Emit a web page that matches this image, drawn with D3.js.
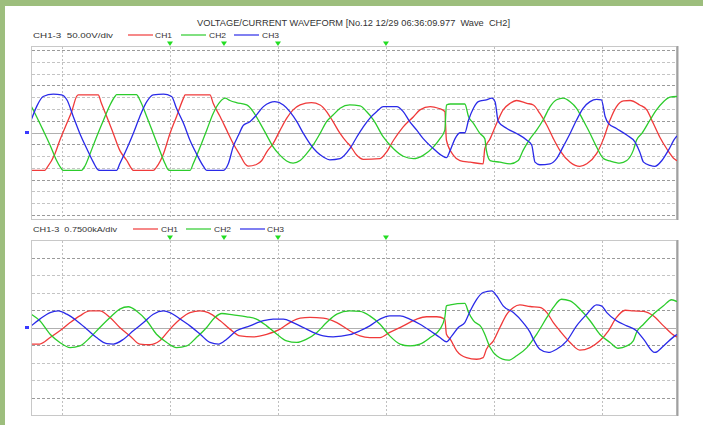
<!DOCTYPE html>
<html>
<head>
<meta charset="utf-8">
<script src="https://cdn.jsdelivr.net/npm/d3@7"></script>
<style>
body { margin: 0; background: #fff; }
svg text { font-family: "Liberation Sans", Arial, sans-serif; fill: #333; white-space: pre; }
</style>
</head>
<body>
<svg id="chart"></svg>
<script>
const width = 703;
const height = 425;

const title = "VOLTAGE/CURRENT WAVEFORM [No.12 12/29 06:36:09.977  Wave  CH2]";
const channels = ["CH1", "CH2", "CH3"];
const colors = ["#f03a3a", "#2ccc2c", "#2a2ae8"];
const gridTimes = [0, 20, 40, 60, 80, 100];   // ms, one division = 20 ms
const markerTimes = [20, 30, 40, 60];

// voltage waveforms [ms, V]
const voltCH1 = [[-5.7,-161],[-3.2,-161],[-2.8,-150],[-1.3,-90],[-0.4,-33],[0.9,39],[1.8,89],[2.7,153],[3.0,160],[6.7,160],[7.3,124],[8.3,67],[9.5,-4],[10.7,-76],[12.0,-119],[12.9,-154],[13.2,-161],[16.9,-161],[17.5,-147],[18.8,-90],[20.0,-4],[21.2,67],[22.5,146],[22.8,160],[27.4,160],[28.0,124],[29.3,67],[30.5,10],[31.7,-47],[33.0,-97],[33.9,-133],[34.5,-143],[36.0,-136],[37.0,-119],[37.9,-83],[39.1,-47],[40.4,10],[41.6,60],[42.8,96],[44.1,117],[46.2,127],[47.8,117],[49.0,89],[50.2,46],[51.5,-4],[52.7,-40],[53.3,-54],[54.6,-97],[55.8,-114],[58.9,-111],[60.1,-83],[61.4,-33],[63.2,24],[65.1,67],[66.3,96],[68.2,110],[69.7,103],[70.9,89],[71.2,-33],[72.5,-97],[73.7,-119],[75.6,-126],[78.0,-133],[78.3,-69],[79.3,-26],[80.5,39],[81.7,96],[83.0,124],[84.2,136],[86.1,124],[87.3,117],[88.5,81],[89.8,31],[91.0,-26],[92.2,-76],[94.1,-126],[95.9,-144],[97.2,-133],[99.0,-90],[100.3,-26],[101.5,53],[102.7,110],[104.0,134],[105.2,136],[107.0,117],[108.3,96],[109.5,39],[110.7,-19],[112.0,-69],[113.5,-114],[113.9,-120]];
const voltCH2 = [[-5.7,112],[-4.7,67],[-3.5,10],[-2.2,-54],[-1.0,-119],[-0.1,-154],[0.2,-161],[3.6,-161],[4.3,-140],[5.2,-90],[6.4,-19],[7.7,53],[8.9,117],[9.8,153],[10.1,161],[13.8,161],[14.4,139],[15.7,67],[16.9,-4],[18.1,-76],[19.1,-133],[19.7,-159],[20.0,-161],[23.7,-161],[24.3,-133],[25.6,-61],[26.8,10],[28.0,81],[29.3,131],[30.2,146],[31.1,136],[32.3,127],[34.2,117],[35.4,89],[36.7,39],[37.9,-11],[39.1,-61],[40.4,-97],[41.6,-121],[42.8,-130],[44.1,-119],[45.3,-90],[46.5,-54],[47.8,-4],[49.0,46],[50.2,74],[51.5,103],[53.3,117],[55.2,113],[56.4,89],[57.7,53],[59.5,-19],[61.4,-69],[63.2,-101],[65.1,-111],[66.9,-97],[68.8,-61],[70.0,-26],[70.9,10],[71.2,117],[71.9,121],[74.6,121],[75.3,67],[76.2,39],[77.4,-4],[78.3,-26],[78.6,-76],[79.3,-119],[81.1,-126],[83.0,-133],[84.5,-119],[85.4,-76],[86.7,-26],[87.9,10],[89.1,53],[90.4,110],[91.6,139],[92.8,146],[94.1,131],[95.3,103],[96.5,53],[97.8,-4],[99.0,-61],[100.3,-111],[101.5,-121],[103.3,-130],[104.6,-119],[105.8,-76],[106.4,-33],[107.4,-4],[108.9,53],[110.1,96],[111.4,131],[112.6,150],[113.9,153]];
const voltCH3 = [[-5.7,53],[-4.7,110],[-3.5,153],[-1.6,163],[-0.1,160],[0.9,139],[2.1,67],[3.3,-4],[4.6,-69],[5.8,-126],[6.7,-159],[7.0,-161],[10.1,-161],[10.7,-133],[12.0,-69],[13.2,-4],[14.4,67],[15.7,131],[16.9,160],[18.8,163],[20.3,153],[21.2,103],[22.5,39],[23.7,-33],[24.9,-90],[26.2,-144],[26.8,-161],[29.9,-161],[30.8,-133],[31.7,-61],[32.7,-11],[33.6,31],[34.8,46],[36.0,74],[37.3,110],[38.5,127],[39.4,131],[41.0,117],[42.2,89],[43.5,46],[44.7,-4],[45.9,-47],[47.2,-83],[48.4,-104],[49.6,-116],[51.5,-111],[53.3,-69],[54.6,-19],[55.8,24],[57.0,60],[58.3,89],[59.5,110],[62.0,110],[63.2,89],[64.4,46],[65.7,10],[66.9,-26],[68.8,-69],[70.0,-93],[71.2,-107],[71.9,-76],[72.8,-26],[73.7,-1],[74.6,-1],[75.3,53],[76.2,103],[77.1,131],[78.6,139],[79.6,146],[80.2,131],[80.8,46],[82.4,17],[84.2,-4],[86.1,-33],[87.0,-54],[87.6,-126],[88.5,-137],[90.4,-133],[91.6,-111],[92.8,-61],[94.1,-4],[95.3,53],[96.5,103],[97.8,131],[99.0,141],[99.9,139],[100.6,67],[101.2,39],[102.7,17],[104.6,-11],[106.1,-40],[107.0,-83],[107.7,-126],[108.9,-140],[109.8,-144],[111.1,-119],[112.3,-76],[113.5,-26],[113.9,-15]];

// current waveforms [ms, kA]
const currCH1 = [[-5.7,-0.71],[-4.1,-0.71],[-2.2,-0.43],[-0.4,-0.14],[1.5,0.21],[3.3,0.5],[5.2,0.71],[7.0,0.71],[8.9,0.43],[10.7,0],[12.6,-0.36],[14.4,-0.71],[16.3,-0.74],[18.1,-0.57],[20.0,-0.07],[21.9,0.36],[23.7,0.64],[25.6,0.71],[27.1,0.64],[29.3,0.29],[31.1,-0.07],[33.0,-0.36],[35.4,-0.4],[37.9,-0.29],[40.4,-0.07],[42.2,0.21],[44.1,0.4],[45.9,0.43],[48.4,0.4],[50.9,0.21],[53.3,-0.14],[55.2,-0.36],[57.0,-0.43],[58.9,-0.43],[60.7,-0.21],[63.2,0.07],[65.7,0.36],[67.5,0.46],[69.4,0.46],[70.9,0.36],[71.2,-0.29],[71.9,-0.5],[73.1,-1.0],[74.9,-1.29],[76.8,-1.36],[78.0,-1.29],[78.6,-0.93],[79.9,-0.57],[81.1,0],[82.4,0.57],[83.6,0.86],[84.8,0.97],[86.7,0.9],[88.5,0.86],[89.8,0.64],[91.0,0.21],[92.2,-0.14],[94.1,-0.64],[95.9,-0.97],[97.8,-0.86],[99.6,-0.57],[101.2,-0.14],[102.7,0.43],[104.3,0.74],[105.8,0.71],[107.7,0.69],[109.5,0.5],[111.4,0.07],[113.5,-0.36],[113.9,-0.4]];
const currCH2 = [[-5.7,0.57],[-4.1,0.29],[-2.2,-0.29],[-0.4,-0.64],[1.5,-0.86],[3.3,-0.79],[5.2,-0.43],[7.0,0],[8.9,0.43],[10.7,0.79],[12.3,0.89],[13.8,0.71],[15.7,0.29],[17.5,-0.29],[19.4,-0.64],[21.2,-0.86],[23.1,-0.79],[24.9,-0.43],[26.8,0],[28.3,0.43],[29.6,0.6],[31.7,0.54],[34.2,0.46],[36.0,0.36],[37.9,0.07],[39.8,-0.29],[41.6,-0.57],[43.5,-0.64],[45.3,-0.5],[47.2,-0.21],[49.0,0.21],[50.9,0.57],[53.3,0.71],[55.2,0.69],[57.0,0.5],[58.9,0.14],[60.7,-0.36],[62.6,-0.71],[64.4,-0.79],[66.3,-0.71],[68.2,-0.43],[70.0,-0.07],[70.9,0.43],[71.2,0.93],[71.9,0.97],[74.6,1.03],[75.3,0.64],[76.2,0.29],[77.7,0],[78.3,-0.29],[79.3,-0.86],[80.5,-1.21],[82.7,-1.4],[84.2,-1.21],[86.1,-0.86],[87.9,-0.29],[89.8,0.43],[91.0,0.86],[92.5,1.21],[94.1,1.14],[95.9,0.79],[97.8,0.29],[99.6,-0.29],[101.5,-0.64],[103.0,-0.89],[104.6,-0.79],[105.8,-0.57],[106.4,-0.21],[107.7,0.14],[109.5,0.57],[111.4,0.93],[112.9,1.19],[113.9,1.11]];
const currCH3 = [[-5.7,0.07],[-4.1,0.36],[-2.2,0.64],[-0.7,0.71],[0.9,0.57],[2.7,0.29],[4.6,-0.07],[6.4,-0.43],[8.3,-0.69],[9.5,-0.71],[11.4,-0.5],[13.2,-0.14],[15.1,0.21],[16.9,0.57],[18.8,0.71],[20.0,0.64],[21.9,0.36],[23.7,0.07],[25.6,-0.29],[27.4,-0.64],[29.0,-0.71],[30.5,-0.5],[32.3,-0.14],[34.8,0.07],[37.3,0.29],[39.1,0.36],[41.0,0.36],[42.8,0.21],[44.7,0],[46.5,-0.21],[48.4,-0.36],[50.2,-0.4],[53.3,-0.31],[55.2,-0.14],[57.0,0.07],[58.9,0.36],[60.7,0.5],[62.6,0.5],[64.4,0.36],[66.3,0.14],[68.2,-0.14],[70.0,-0.43],[71.2,-0.61],[72.2,-0.36],[73.4,0],[74.6,0.21],[75.6,0.71],[76.8,1.21],[78.0,1.5],[79.6,1.57],[80.5,1.36],[81.7,0.93],[83.6,0.64],[85.4,0.21],[86.7,-0.21],[87.3,-0.5],[88.5,-0.93],[90.1,-1.07],[91.6,-0.93],[93.5,-0.57],[95.3,0.07],[97.2,0.57],[99.0,0.97],[99.9,0.93],[100.9,0.64],[102.7,0.29],[104.6,0.07],[106.4,-0.14],[107.7,-0.5],[109.8,-1.07],[111.4,-0.79],[113.5,-0.36],[113.9,-0.3]];

const panels = [
    { label: "CH1-3  50.00V/div", labelLen: 80, unit: 50, divs: 7.35, top: 46, bottom: 219,
      series: [voltCH1, voltCH2, voltCH3], legendY: 35, lineX: [128, 181, 234], textX: [155, 209, 262],
      markerY: 44, darkLines: [1, 4, 7] },
    { label: "CH1-3  0.7500kA/div", labelLen: 84, unit: 0.75, divs: 5, top: 240, bottom: 415,
      series: [currCH1, currCH2, currCH3], legendY: 229, lineX: [133, 186, 240], textX: [161, 214, 267],
      markerY: 238, darkLines: [1, 4] }
];

const svg = d3.select("#chart")
    .attr("width", width)
    .attr("height", height);

// green frame
svg.append("rect").attr("width", width).attr("height", 6).attr("fill", "#9dbe7d");
svg.append("rect").attr("width", 5).attr("height", height).attr("fill", "#9dbe7d");

svg.append("text")
    .attr("x", 197).attr("y", 26)
    .attr("font-size", 8.5)
    .attr("textLength", 313).attr("lengthAdjust", "spacingAndGlyphs")
    .text(title);

const x = d3.scaleLinear().domain([-5.74, 113.9]).range([31, 677]);

panels.forEach((p, pi) => {
    const y = d3.scaleLinear().domain([-p.divs * p.unit, p.divs * p.unit]).range([p.bottom, p.top]);
    const g = svg.append("g");

    // label and legend
    g.append("text")
        .attr("x", 33).attr("y", p.legendY + 3)
        .attr("font-size", 8)
        .attr("textLength", p.labelLen).attr("lengthAdjust", "spacingAndGlyphs")
        .text(p.label);
    channels.forEach((c, i) => {
        g.append("line")
            .attr("x1", p.lineX[i]).attr("x2", p.lineX[i] + 25)
            .attr("y1", p.legendY).attr("y2", p.legendY)
            .attr("stroke", colors[i]).attr("stroke-width", 1.2);
        g.append("text")
            .attr("x", p.textX[i]).attr("y", p.legendY + 3)
            .attr("font-size", 8)
            .attr("textLength", 17).attr("lengthAdjust", "spacingAndGlyphs")
            .text(c);
    });

    // trigger markers
    g.selectAll(".marker")
        .data(markerTimes)
        .enter()
        .append("path")
        .attr("d", "M-3,-2.5L3,-2.5L0,2Z")
        .attr("transform", d => `translate(${x(d)}, ${p.markerY})`)
        .attr("fill", "#22dd22");

    // horizontal grid
    const levels = d3.range(-Math.floor(p.divs), Math.floor(p.divs) + 1).filter(k => k !== 0);
    g.selectAll(".hgrid")
        .data(levels)
        .enter()
        .append("line")
        .attr("x1", 32).attr("x2", 676)
        .attr("y1", k => Math.round(y(k * p.unit)) + 0.5)
        .attr("y2", k => Math.round(y(k * p.unit)) + 0.5)
        .attr("stroke", k => p.darkLines.includes(Math.abs(k)) ? "#9a9a9a" : "#c4c4c4")
        .attr("stroke-dasharray", "3,2");

    // vertical grid
    g.selectAll(".vgrid")
        .data(gridTimes)
        .enter()
        .append("line")
        .attr("x1", d => Math.round(x(d)) + 0.5).attr("x2", d => Math.round(x(d)) + 0.5)
        .attr("y1", p.top + 1).attr("y2", p.bottom)
        .attr("stroke", "#c0c0c0")
        .attr("stroke-dasharray", "2,2");

    // zero line
    g.append("line")
        .attr("x1", 31).attr("x2", 677)
        .attr("y1", Math.round(y(0)) + 0.5).attr("y2", Math.round(y(0)) + 0.5)
        .attr("stroke", "#b0b0b0");

    // frame
    g.append("rect")
        .attr("x", 31.5).attr("y", p.top + 0.5)
        .attr("width", 645).attr("height", p.bottom - p.top)
        .attr("fill", "none").attr("stroke", "#c8c8c8");
    g.append("line")
        .attr("x1", 677.5).attr("x2", 677.5)
        .attr("y1", p.top).attr("y2", p.bottom + 1)
        .attr("stroke", "#a0a0a0").attr("stroke-width", 2);

    // zero marker
    g.append("rect")
        .attr("x", 25).attr("y", y(0) - 1.5)
        .attr("width", 4).attr("height", 3)
        .attr("fill", "#3a3aff");

    // waveforms
    const clipId = `clip${pi}`;
    svg.append("clipPath").attr("id", clipId)
        .append("rect")
        .attr("x", 32).attr("y", p.top + 1)
        .attr("width", 645).attr("height", p.bottom - p.top - 1);

    const line = d3.line()
        .x(d => x(d[0]))
        .y(d => y(d[1]))
        .curve(d3.curveMonotoneX);

    g.append("g")
        .attr("clip-path", `url(#${clipId})`)
        .selectAll("path")
        .data(p.series)
        .enter()
        .append("path")
        .attr("d", line)
        .attr("fill", "none")
        .attr("stroke", (d, i) => colors[i])
        .attr("stroke-width", 1.3)
        .attr("stroke-linejoin", "round");
});
</script>
</body>
</html>
